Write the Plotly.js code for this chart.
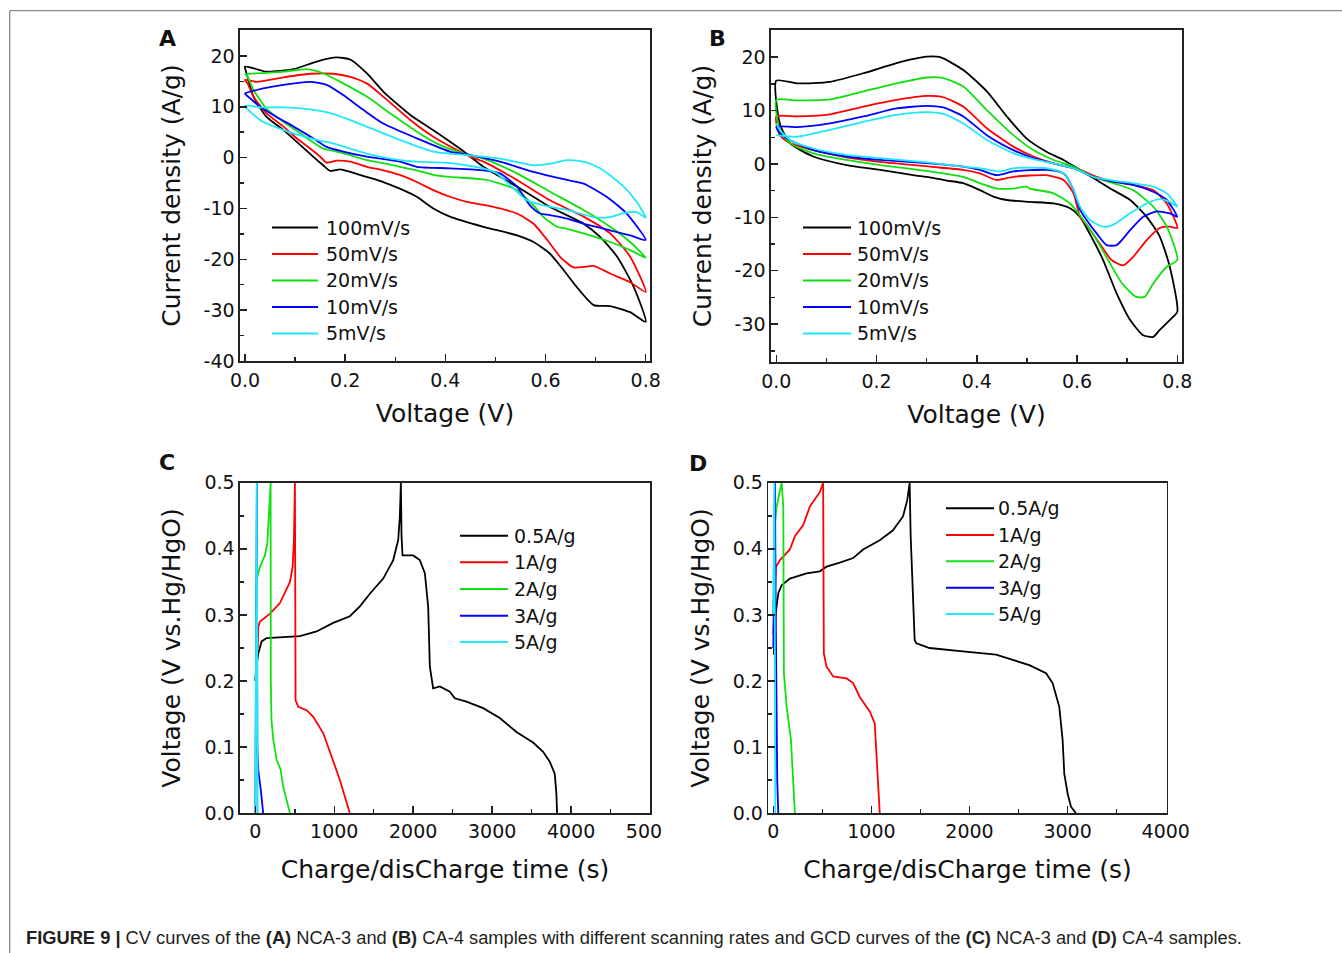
<!DOCTYPE html>
<html>
<head>
<meta charset="utf-8">
<script src="https://cdn.plot.ly/plotly-3.0.1.min.js"></script>
<style>
html,body{margin:0;padding:0;background:#fff;}
#chart{width:1342px;height:953px;}
</style>
</head>
<body>
<div id="chart"></div>
<script>
// ---------------- DATA ----------------
// Panel A: CV curves of NCA-3 (voltage V, current density A/g)
const cvRateNames = ["100mV/s", "50mV/s", "20mV/s", "10mV/s", "5mV/s"];
const seriesColors = ["#000000", "#ff0000", "#10e010", "#0000ff", "#20e8f8"];

const cvA_V100 = [0.0,0.043,0.097,0.143,0.183,0.21,0.243,0.276,0.33,0.376,0.433,0.476,0.543,0.609,0.676,0.709,0.743,0.776,0.8,0.769,0.729,0.696,0.662,0.636,0.609,0.576,0.543,0.476,0.409,0.376,0.343,0.309,0.276,0.243,0.21,0.19,0.17,0.156,0.136,0.11,0.077,0.043,0.017,0.003,0.0];
const cvA_I100 = [17.9,16.9,17.4,18.9,19.7,19.3,16.6,13.0,8.4,5.4,1.5,-1.8,-5.7,-9.7,-13.0,-15.6,-19.5,-25.4,-32.3,-30.4,-29.2,-29.0,-25.4,-22.1,-18.9,-16.6,-15.3,-13.6,-11.6,-10.0,-7.7,-6.1,-4.8,-3.8,-2.8,-2.3,-2.6,-1.5,0.2,2.5,5.4,8.0,12.0,16.6,17.9];
const cvA_V50 = [0.0,0.023,0.077,0.13,0.176,0.21,0.243,0.276,0.33,0.376,0.423,0.45,0.476,0.543,0.609,0.676,0.729,0.769,0.8,0.769,0.729,0.696,0.676,0.656,0.629,0.609,0.576,0.543,0.509,0.476,0.443,0.409,0.376,0.343,0.309,0.276,0.243,0.21,0.183,0.163,0.15,0.13,0.103,0.077,0.043,0.017,0.005,0.0];
const cvA_I50 = [15.3,14.9,15.8,16.5,16.5,15.9,14.6,12.0,7.4,4.1,1.5,0.2,-0.8,-4.4,-8.4,-11.6,-14.9,-19.5,-26.4,-24.5,-22.8,-21.3,-21.5,-21.6,-19.5,-16.9,-13.0,-11.0,-10.0,-9.3,-8.7,-7.7,-6.4,-4.8,-3.4,-2.5,-1.8,-0.8,-0.6,-1.0,0.2,1.8,3.8,6.1,8.7,12.0,14.6,15.3];
const cvA_V20 = [0.0,0.03,0.077,0.123,0.156,0.196,0.243,0.29,0.343,0.389,0.436,0.476,0.543,0.609,0.676,0.729,0.769,0.8,0.769,0.729,0.676,0.643,0.623,0.596,0.576,0.543,0.509,0.476,0.409,0.376,0.343,0.309,0.276,0.243,0.21,0.183,0.156,0.136,0.11,0.077,0.043,0.017,0.003,0.0];
const cvA_I20 = [16.4,16.6,16.9,17.4,16.6,14.6,12.0,8.7,5.1,2.5,0.8,-0.2,-3.1,-6.7,-10.3,-13.6,-16.6,-19.7,-18.2,-16.6,-14.9,-14.0,-13.6,-11.7,-9.4,-6.4,-5.1,-4.3,-3.8,-3.4,-2.5,-1.8,-1.1,-0.5,0.5,1.2,1.8,3.0,4.8,7.0,9.6,13.3,16.3,16.4];
const cvA_V10 = [0.0,0.023,0.077,0.13,0.163,0.196,0.236,0.276,0.343,0.409,0.45,0.509,0.576,0.643,0.676,0.722,0.762,0.8,0.769,0.729,0.676,0.643,0.609,0.589,0.569,0.543,0.509,0.476,0.409,0.343,0.309,0.243,0.196,0.163,0.136,0.097,0.063,0.03,0.01,0.0];
const cvA_I10 = [12.6,13.3,14.3,14.9,14.3,12.3,9.4,6.7,3.8,1.2,0.5,-0.8,-2.8,-4.4,-5.1,-7.7,-11.0,-16.2,-15.3,-14.3,-13.0,-12.0,-11.3,-11.0,-9.4,-5.7,-3.1,-2.5,-2.1,-1.8,-0.8,0.2,1.2,2.1,3.8,6.1,8.0,10.0,11.7,12.6];
const cvA_V5 = [0.0,0.03,0.077,0.13,0.176,0.243,0.309,0.376,0.443,0.509,0.576,0.609,0.643,0.676,0.709,0.756,0.782,0.8,0.782,0.756,0.729,0.696,0.643,0.596,0.563,0.529,0.503,0.476,0.409,0.343,0.309,0.243,0.176,0.143,0.077,0.03,0.0];
const cvA_I5 = [10.2,9.9,9.9,9.5,8.6,6.1,3.5,1.2,0.5,-0.2,-1.5,-1.2,-0.5,-0.8,-2.1,-5.7,-8.7,-11.8,-10.7,-10.9,-11.7,-11.7,-10.3,-9.4,-8.4,-5.4,-3.1,-2.1,-1.1,-0.8,-0.5,0.8,2.8,3.5,5.4,7.4,10.2];
const cvA_yTickVals = [-40,-30,-20,-10,0,10,20];
const cvA_yTickText = ["-40","-30","-20","-10","0","10","20"];

// Panel B: CV curves of CA-4
const cvB_V100 = [0.0,0.041,0.107,0.174,0.24,0.3,0.327,0.373,0.42,0.46,0.499,0.539,0.573,0.606,0.639,0.672,0.706,0.739,0.765,0.785,0.8,0.785,0.765,0.752,0.732,0.706,0.679,0.652,0.632,0.606,0.586,0.553,0.506,0.46,0.433,0.406,0.373,0.34,0.306,0.273,0.207,0.14,0.074,0.027,0.007,0.0];
const cvB_I100 = [15.6,15.1,15.4,17.0,18.9,20.1,20.0,17.6,13.6,8.9,4.8,2.3,0.75,-1.1,-3.0,-4.9,-6.75,-9.9,-13.6,-19.25,-27.7,-29.25,-31.1,-32.4,-32.1,-29.25,-24.25,-18.0,-14.25,-9.9,-8.3,-7.4,-7.1,-6.75,-6.1,-4.9,-3.6,-3.1,-2.5,-2.1,-1.1,-0.2,1.4,3.9,7.6,15.6];
const cvB_V50 = [0.0,0.041,0.107,0.174,0.24,0.3,0.333,0.373,0.42,0.473,0.513,0.553,0.579,0.606,0.639,0.672,0.712,0.752,0.779,0.8,0.785,0.765,0.739,0.712,0.692,0.669,0.645,0.622,0.606,0.593,0.573,0.539,0.473,0.44,0.406,0.373,0.306,0.207,0.14,0.074,0.027,0.007,0.0];
const cvB_I50 = [8.9,8.9,9.3,10.75,12.0,12.75,12.5,10.75,6.7,3.25,1.4,0.1,-0.5,-1.1,-2.4,-3.3,-3.9,-4.9,-7.4,-12.0,-11.75,-12.0,-14.25,-17.4,-19.0,-18.0,-14.9,-11.75,-9.9,-5.5,-3.0,-2.1,-2.4,-3.0,-1.75,-1.1,-0.5,0.4,1.25,2.6,3.9,5.4,8.9];
const cvB_V20 = [0.0,0.041,0.107,0.174,0.24,0.3,0.333,0.373,0.42,0.473,0.513,0.553,0.593,0.632,0.672,0.712,0.752,0.779,0.8,0.779,0.752,0.735,0.718,0.69,0.662,0.635,0.608,0.586,0.553,0.506,0.499,0.473,0.44,0.406,0.373,0.306,0.207,0.14,0.074,0.027,0.007,0.0];
const cvB_I20 = [12.0,11.9,12.1,13.6,15.1,16.2,16.1,14.5,10.1,5.4,2.6,0.75,-0.5,-2.4,-3.6,-4.9,-8.0,-11.75,-18.0,-19.25,-22.4,-24.9,-24.9,-22.4,-18.0,-13.6,-9.9,-7.4,-5.5,-4.6,-4.25,-4.6,-4.6,-3.6,-2.4,-1.4,-0.2,0.75,2.0,3.9,6.4,12.0];
const cvB_V10 = [0.0,0.041,0.107,0.174,0.24,0.3,0.333,0.373,0.42,0.473,0.513,0.553,0.593,0.632,0.672,0.712,0.752,0.779,0.8,0.785,0.759,0.732,0.706,0.679,0.659,0.639,0.619,0.606,0.593,0.573,0.539,0.473,0.44,0.406,0.373,0.306,0.207,0.14,0.074,0.027,0.007,0.0];
const cvB_I10 = [7.0,6.9,7.6,8.9,10.4,10.9,10.6,8.9,5.4,2.6,1.1,0.1,-0.8,-2.4,-3.3,-3.9,-5.2,-6.75,-9.9,-9.25,-8.9,-9.9,-12.4,-15.2,-15.2,-13.0,-10.5,-8.6,-4.9,-1.75,-1.1,-1.4,-2.1,-1.1,-0.5,0.1,0.75,1.4,2.6,4.5,5.75,7.0];
const cvB_V5 = [0.0,0.041,0.107,0.174,0.24,0.3,0.333,0.373,0.42,0.473,0.513,0.553,0.593,0.632,0.672,0.712,0.752,0.779,0.8,0.785,0.765,0.739,0.706,0.672,0.652,0.626,0.606,0.593,0.573,0.539,0.473,0.446,0.406,0.373,0.306,0.207,0.14,0.074,0.027,0.007,0.0];
const cvB_I5 = [5.4,5.1,6.4,7.9,9.2,9.7,9.4,7.6,4.5,2.0,0.9,0.1,-0.8,-2.4,-3.1,-3.6,-4.25,-5.5,-8.0,-7.1,-6.6,-7.4,-9.25,-11.4,-11.75,-10.5,-8.0,-4.9,-1.75,-0.8,-0.8,-1.4,-0.8,-0.5,0.25,1.1,1.7,2.9,4.5,6.4,7.6];
const cvB_yTickVals = [-30,-20,-10,0,10,20];
const cvB_yTickText = ["-30","-20","-10","0","10","20"];

// Panel C: GCD curves of NCA-3 (time s, voltage V vs Hg/HgO)
const gcdNames = ["0.5A/g", "1A/g", "2A/g", "3A/g", "5A/g"];
const gcdC_t05 = [0,8,38,80,143,354,565,776,987,1198,1325,1451,1620,1747,1810,1831,1844,1852,1865,2000,2084,2148,2190,2211,2253,2338,2464,2527,2675,2886,3097,3308,3519,3646,3730,3793,3814,3823];
const gcdC_v05 = [0.2,0.217,0.242,0.26,0.265,0.266,0.268,0.275,0.288,0.298,0.313,0.332,0.355,0.383,0.413,0.449,0.5,0.42,0.39,0.39,0.383,0.363,0.312,0.222,0.189,0.192,0.184,0.174,0.169,0.159,0.144,0.123,0.107,0.093,0.078,0.06,0.03,0.0];
const gcdC_t1 = [30,38,59,186,312,439,473,489,502,506,510,544,650,734,861,966,1072,1198];
const gcdC_v1 = [0.25,0.282,0.29,0.302,0.318,0.35,0.373,0.413,0.5,0.3,0.171,0.161,0.156,0.146,0.121,0.086,0.05,0.0];
const gcdC_t2 = [5,17,59,122,152,177,194,196,205,228,270,321,354,439];
const gcdC_v2 = [0.3,0.353,0.373,0.39,0.408,0.464,0.5,0.2,0.141,0.111,0.081,0.066,0.04,0.0];
const gcdC_t3 = [0,10,20,25,38,70,100];
const gcdC_v3 = [0.0,0.3,0.5,0.1,0.065,0.035,0.0];
const gcdC_t5 = [0,12,18,24,30];
const gcdC_v5 = [0.0,0.35,0.5,0.25,0.0];

// Panel D: GCD curves of CA-4
const gcdD_t05 = [5,10,24,51,85,169,339,475,542,678,746,814,915,1085,1220,1322,1366,1390,1400,1441,1458,1593,1932,2271,2441,2610,2780,2847,2915,2949,2966,3000,3034,3085];
const gcdD_v05 = [0.24,0.262,0.302,0.333,0.345,0.355,0.363,0.366,0.373,0.379,0.383,0.386,0.399,0.413,0.428,0.449,0.474,0.5,0.42,0.262,0.257,0.25,0.245,0.24,0.232,0.224,0.212,0.197,0.161,0.111,0.06,0.03,0.01,0.0];
const gcdD_t1 = [0,7,27,68,169,220,305,373,475,508,515,542,610,746,814,881,983,1034,1051,1085];
const gcdD_v1 = [0.27,0.3,0.373,0.383,0.399,0.419,0.436,0.464,0.486,0.5,0.242,0.222,0.207,0.204,0.197,0.176,0.154,0.136,0.086,0.0];
const gcdD_t2 = [0,10,34,85,102,108,136,180,220];
const gcdD_v2 = [0.3,0.428,0.464,0.5,0.464,0.212,0.161,0.111,0.0];
const gcdD_t3 = [0,8,17,25,40,51];
const gcdD_v3 = [0.25,0.45,0.5,0.3,0.05,0.0];
const gcdD_t5 = [0,5,10,15,20];
const gcdD_v5 = [0.3,0.45,0.5,0.3,0.0];

const caption = "<b>FIGURE 9 |</b> CV curves of the <b>(A)</b> NCA-3 and <b>(B)</b> CA-4 samples with different scanning rates and GCD curves of the <b>(C)</b> NCA-3 and <b>(D)</b> CA-4 samples.";

// ---------------- BUILD ----------------
const W = 1342, H = 953;
const px = x => x / W;
const py = y => 1 - y / H;
const FONT = "DejaVu Sans, Liberation Sans, Arial, sans-serif";

const cvA = [[cvA_V100,cvA_I100],[cvA_V50,cvA_I50],[cvA_V20,cvA_I20],[cvA_V10,cvA_I10],[cvA_V5,cvA_I5]];
const cvB = [[cvB_V100,cvB_I100],[cvB_V50,cvB_I50],[cvB_V20,cvB_I20],[cvB_V10,cvB_I10],[cvB_V5,cvB_I5]];
const gcdC = [[gcdC_t05,gcdC_v05],[gcdC_t1,gcdC_v1],[gcdC_t2,gcdC_v2],[gcdC_t3,gcdC_v3],[gcdC_t5,gcdC_v5]];
const gcdD = [[gcdD_t05,gcdD_v05],[gcdD_t1,gcdD_v1],[gcdD_t2,gcdD_v2],[gcdD_t3,gcdD_v3],[gcdD_t5,gcdD_v5]];

const traces = [];
function addSeries(sets, names, xa, ya, smooth) {
  sets.forEach((s, i) => {
    traces.push({
      type: "scatter", mode: "lines", x: s[0], y: s[1], name: names[i],
      xaxis: xa, yaxis: ya, showlegend: false, hoverinfo: "skip",
      line: smooth ? {color: seriesColors[i], width: 1.8, shape: "spline", smoothing: 0.6}
                   : {color: seriesColors[i], width: 1.8}
    });
  });
}
addSeries(cvA, cvRateNames, "x", "y", true);
addSeries(cvB, cvRateNames, "x2", "y2", true);
addSeries(gcdC, gcdNames, "x3", "y3", false);
addSeries(gcdD, gcdNames, "x4", "y4", false);

function axis(o) {
  return Object.assign({
    showline: true, linecolor: "#222", linewidth: 1.6, mirror: true,
    ticks: "inside", ticklen: 7, tickwidth: 1.5, tickcolor: "#222",
    showgrid: false, zeroline: false,
    tickfont: {family: FONT, size: 19, color: "#111"},
    fixedrange: true
  }, o);
}
function title(t, standoff) {
  return {text: t, font: {family: FONT, size: 25, color: "#111"}, standoff: standoff};
}
const minorCfg = d => ({ticks: "inside", ticklen: 4, tickwidth: 1.5, tickcolor: "#222", dtick: d, showgrid: false});

const layout = {
  width: W, height: H,
  margin: {l: 0, r: 0, t: 0, b: 0},
  paper_bgcolor: "#fff", plot_bgcolor: "#fff",
  showlegend: false,
  xaxis: axis({domain: [px(240), px(650)], range: [-0.01, 0.8086], anchor: "y", tick0: 0, dtick: 0.2, tickformat: ".1f", ticklabelstandoff: 2, minor: minorCfg(0.1), title: title("Voltage (V)", 14)}),
  yaxis: axis({domain: [py(361), py(30)], range: [-40, 25.1], anchor: "x", tickmode: "array", tickvals: cvA_yTickVals, ticktext: cvA_yTickText, minor: minorCfg(5), title: title("Current density (A/g)", 16)}),
  xaxis2: axis({domain: [px(771), px(1182)], range: [-0.0106, 0.8094], anchor: "y2", tick0: 0, dtick: 0.2, tickformat: ".1f", ticklabelstandoff: 2, minor: minorCfg(0.1), title: title("Voltage (V)", 14)}),
  yaxis2: axis({domain: [py(362), py(30)], range: [-37.1, 25.1], anchor: "x2", tickmode: "array", tickvals: cvB_yTickVals, ticktext: cvB_yTickText, minor: {ticks: "inside", ticklen: 4, tickwidth: 1.5, tickcolor: "#222", tick0: 0, dtick: 5, showgrid: false}, title: title("Current density (A/g)", 16)}),
  xaxis3: axis({domain: [px(240), px(650)], range: [-194, 5000], anchor: "y3", tick0: 0, dtick: 1000, minor: minorCfg(500), title: title("Charge/disCharge time (s)", 20)}),
  yaxis3: axis({domain: [py(813.3), py(482.7)], range: [0, 0.5], anchor: "x3", tick0: 0, dtick: 0.1, tickformat: ".1f", minor: minorCfg(0.05), title: title("Voltage (V vs.Hg/HgO)", 16)}),
  xaxis4: axis({domain: [px(768.3), px(1166.7)], range: [-51, 4010], anchor: "y4", tick0: 0, dtick: 1000, minor: minorCfg(500), title: title("Charge/disCharge time (s)", 20)}),
  yaxis4: axis({domain: [py(813.3), py(482.7)], range: [0, 0.5], anchor: "x4", tick0: 0, dtick: 0.1, tickformat: ".1f", minor: minorCfg(0.05), title: title("Voltage (V vs.Hg/HgO)", 16)}),
  shapes: [],
  annotations: []
};

// outer figure frame (top and left rules)
layout.shapes.push({type: "line", xref: "paper", yref: "paper", x0: px(9.7), x1: 1, y0: py(10.7), y1: py(10.7), line: {color: "#8a8a8a", width: 1.3}});
layout.shapes.push({type: "line", xref: "paper", yref: "paper", x0: px(9.7), x1: px(9.7), y0: py(10.7), y1: 0, line: {color: "#8a8a8a", width: 1.3}});
// image crop at right edge of panel C tick labels
layout.shapes.push({type: "rect", xref: "paper", yref: "paper", layer: "above", x0: px(663), x1: px(700), y0: py(848), y1: py(818), fillcolor: "#fff", line: {width: 0}});

// panel letters
[["A",167,39],["B",717,39],["C",167,462],["D",698,463]].forEach(p => {
  layout.annotations.push({text: "<b>" + p[0] + "</b>", xref: "paper", yref: "paper", x: px(p[1]), y: py(p[2]),
    xanchor: "center", yanchor: "middle", showarrow: false, font: {family: FONT, size: 22, color: "#111"}});
});

// custom legends
function legend(names, spec) {
  names.forEach((n, i) => {
    const y = spec.rows[i];
    layout.shapes.push({type: "line", xref: "paper", yref: "paper", x0: px(spec.x0), x1: px(spec.x1), y0: py(y), y1: py(y),
      line: {color: seriesColors[i], width: 1.9}});
    layout.annotations.push({text: n, xref: "paper", yref: "paper", x: px(spec.tx), y: py(y), xanchor: "left", yanchor: "middle",
      showarrow: false, font: {family: FONT, size: 19, color: "#111"}});
  });
}
legend(cvRateNames, {x0: 272, x1: 318, tx: 324, rows: [227.5, 254, 280.5, 307, 333.5]});
legend(cvRateNames, {x0: 803, x1: 851, tx: 855, rows: [227.5, 254, 280.5, 307, 333.5]});
legend(gcdNames, {x0: 460, x1: 508, tx: 512, rows: [535.7, 562.3, 589, 615.7, 642]});
legend(gcdNames, {x0: 946, x1: 994, tx: 996, rows: [508.3, 535, 561.3, 587.7, 614]});

// caption
layout.annotations.push({text: caption, xref: "paper", yref: "paper", x: px(24), y: py(937), xanchor: "left", yanchor: "middle",
  showarrow: false, font: {family: "Liberation Sans, Arial, sans-serif", size: 18.3, color: "#231f20"}});

Plotly.newPlot("chart", traces, layout, {displayModeBar: false, staticPlot: true});
</script>
</body>
</html>
